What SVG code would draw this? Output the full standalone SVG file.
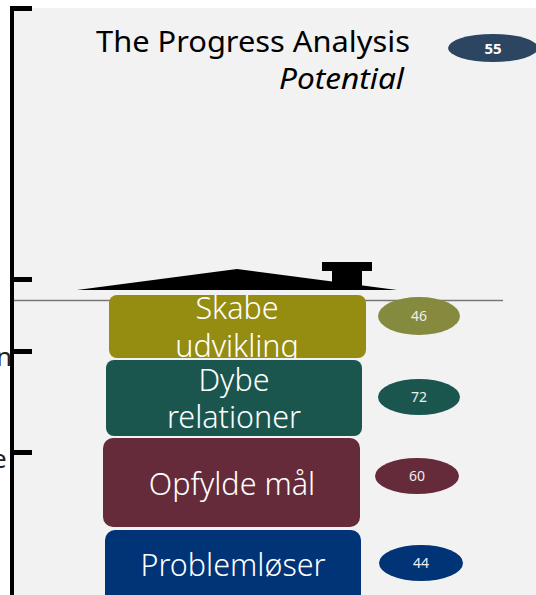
<svg xmlns="http://www.w3.org/2000/svg" width="536" height="595" viewBox="0 0 536 595">
<defs>
<style>
.lbl{font-family:"Noto Sans",Lato,sans-serif;fill:#fff;text-anchor:middle;font-size:30.5px;font-weight:300}
.num{font-family:"Noto Sans",Lato,sans-serif;fill:#eee;text-anchor:middle;font-size:14px}
.tick{fill:#000}
</style>
<clipPath id="c1"><rect x="109" y="295" width="257" height="63" rx="8"/></clipPath>
</defs>
<rect x="0" y="0" width="536" height="595" fill="#fff"/>
<rect x="12" y="8" width="524" height="587" fill="#f2f2f2"/>
<g id="axis">
<rect class="tick" x="10" y="6" width="4" height="589"/>
<rect class="tick" x="10" y="6" width="22" height="5"/>
<rect class="tick" x="10" y="277" width="22" height="5"/>
<rect class="tick" x="10" y="349" width="22" height="5"/>
<rect class="tick" x="10" y="450" width="22" height="5"/>
<text x="-4" y="366" font-family="'Noto Sans',Lato,sans-serif" font-size="26" fill="#222">n</text>
<text x="-8" y="468" font-family="'Noto Sans',Lato,sans-serif" font-size="26" fill="#222">e</text>
</g>
<g id="title">
<text x="410" y="52" text-anchor="end" font-family="'Noto Sans',Lato,sans-serif" font-size="29" textLength="314" lengthAdjust="spacingAndGlyphs" fill="#000">The Progress Analysis</text>
<text x="404" y="89" text-anchor="end" font-family="'Noto Sans',Lato,sans-serif" font-style="italic" font-size="29" textLength="125" lengthAdjust="spacingAndGlyphs" fill="#000">Potential</text>
</g>
<g id="score55">
<ellipse cx="493" cy="48" rx="45" ry="14" fill="#2c4560"/>
<text x="493" y="54" text-anchor="middle" font-family="'Noto Sans',Lato,sans-serif" font-weight="bold" font-size="15" fill="#fff">55</text>
</g>
<g id="roof">
<polygon points="77,290 237,269 397,290" fill="#000"/>
<rect x="322" y="262" width="50" height="9" fill="#000"/>
<rect x="332" y="270" width="30" height="18" fill="#000"/>
</g>
<line x1="14" y1="300.5" x2="503" y2="300.5" stroke="#777" stroke-width="1.5"/>
<g id="skabe">
<rect x="109" y="295" width="257" height="63" rx="8" fill="#958c12"/>
<g clip-path="url(#c1)">
<text class="lbl" x="237" y="319">Skabe</text>
<text class="lbl" x="237" y="357">udvikling</text>
</g>
</g>
<g id="dybe">
<rect x="106" y="360" width="256" height="76" rx="8" fill="#1a564e"/>
<text class="lbl" x="234" y="391">Dybe</text>
<text class="lbl" x="234" y="428">relationer</text>
</g>
<g id="opfylde">
<rect x="103" y="438" width="257" height="89" rx="10" fill="#662b3a"/>
<text class="lbl" x="232" y="495">Opfylde mål</text>
</g>
<g id="problem">
<rect x="105" y="530" width="256" height="80" rx="10" fill="#003476"/>
<text class="lbl" x="233" y="576">Problemløser</text>
</g>
<g id="score46">
<ellipse cx="419" cy="316" rx="41" ry="19" fill="#858a3e"/>
<text class="num" x="419" y="321">46</text>
</g>
<g id="score72">
<ellipse cx="419" cy="397" rx="41" ry="18" fill="#1a564e"/>
<text class="num" x="419" y="402">72</text>
</g>
<g id="score60">
<ellipse cx="417" cy="476" rx="42" ry="18" fill="#662b3a"/>
<text class="num" x="417" y="481">60</text>
</g>
<g id="score44">
<ellipse cx="421" cy="563" rx="42" ry="18" fill="#003476"/>
<text class="num" x="421" y="568">44</text>
</g>
</svg>
